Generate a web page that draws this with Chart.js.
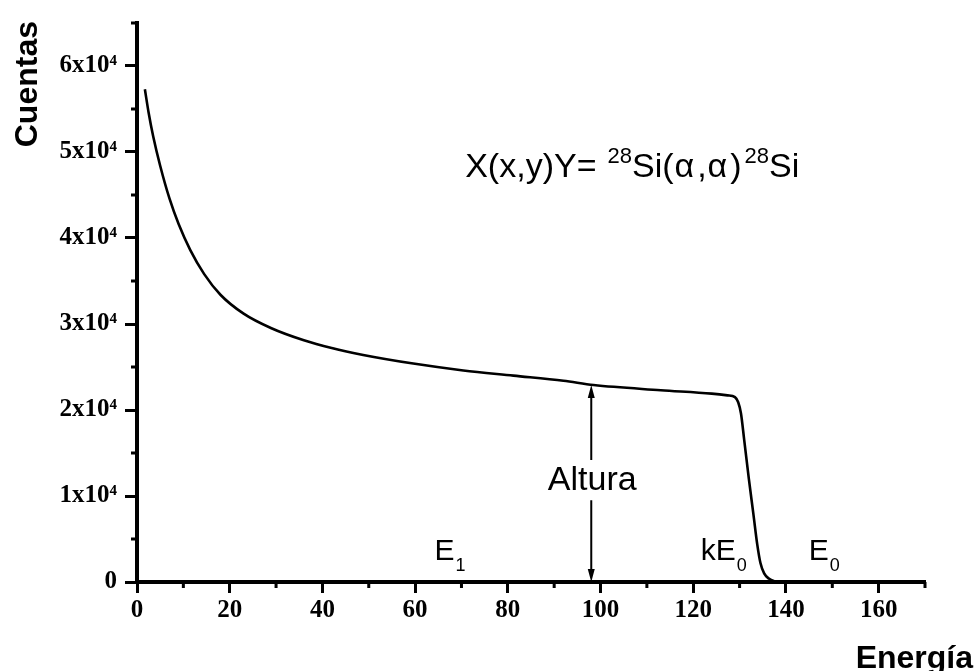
<!DOCTYPE html>
<html>
<head>
<meta charset="utf-8">
<script src="https://cdn.jsdelivr.net/npm/chart.js@4.4.1/dist/chart.umd.min.js"></script>
<style>
  html, body { margin: 0; padding: 0; background: #fff; }
  #wrap { width: 977px; height: 671px; }
</style>
</head>
<body>
<div id="wrap"><canvas id="espectro" width="977" height="671"></canvas></div>
<script>
// Espectro RBS: cuentas frente a energía
const energia = [1.7, 2.5, 3.5, 5.0, 7.0, 9.0, 11.5, 14.5, 18, 23, 29, 36, 42, 48.8, 59.6, 70.4, 81.2, 92, 98.5, 113, 124, 127.4, 129.0, 129.7, 130.3, 131.0, 132.0, 133.0, 133.8, 134.5, 135.3, 136.3, 137.5, 139];
const cuentas = [57300, 54600, 51800, 48400, 44600, 41600, 38600, 35800, 33400, 31200, 29500, 28100, 27200, 26400, 25400, 24600, 24000, 23400, 22900, 22300, 21900, 21700, 21500, 20900, 19600, 16500, 12000, 7800, 4400, 2200, 1000, 400, 100, 0];

const xMayores = [0, 20, 40, 60, 80, 100, 120, 140, 160];
const xMenores = [10, 30, 50, 70, 90, 110, 130, 150, 170];
const yMayores = [0, 10000, 20000, 30000, 40000, 50000, 60000];
const yMenores = [5000, 15000, 25000, 35000, 45000, 55000, 65000];

// flecha "Altura"
const alturaE = 98;
const alturaC = 22900;

const sans = '"Liberation Sans", Arial, sans-serif';
const serif = '"Liberation Serif", "Times New Roman", serif';

function textoCompuesto(ctx, x, y, partes) {
  let cx = x;
  partes.forEach(p => {
    ctx.font = (p.bold ? 'bold ' : '') + p.size + 'px ' + sans;
    ctx.fillText(p.t, cx, y + (p.dy || 0));
    cx += ctx.measureText(p.t).width + (p.gap || 0);
  });
}

const anotaciones = {
  id: 'anotaciones',
  afterDraw(chart) {
    const { ctx, chartArea: a, scales: { x, y } } = chart;
    ctx.save();
    ctx.fillStyle = '#000';
    ctx.strokeStyle = '#000';

    // marcas menores
    ctx.lineWidth = 3;
    ctx.beginPath();
    xMenores.forEach(v => {
      const px = x.getPixelForValue(v);
      ctx.moveTo(px, a.bottom);
      ctx.lineTo(px, a.bottom + 6);
    });
    yMenores.forEach(v => {
      const py = y.getPixelForValue(v);
      ctx.moveTo(a.left, py);
      ctx.lineTo(a.left - 6, py);
    });
    ctx.stroke();

    // flecha doble con hueco para el texto
    const ax = x.getPixelForValue(alturaE);
    const yb = y.getPixelForValue(0);
    const yt = y.getPixelForValue(alturaC);
    const g1 = y.getPixelForValue(14200);
    const g2 = y.getPixelForValue(9500);
    ctx.lineWidth = 2;
    ctx.beginPath();
    ctx.moveTo(ax, yt + 8); ctx.lineTo(ax, g1);
    ctx.moveTo(ax, g2); ctx.lineTo(ax, yb - 8);
    ctx.stroke();
    ctx.beginPath();
    ctx.moveTo(ax, yt); ctx.lineTo(ax - 3.5, yt + 13); ctx.lineTo(ax + 3.5, yt + 13); ctx.closePath();
    ctx.moveTo(ax, yb); ctx.lineTo(ax - 3.5, yb - 13); ctx.lineTo(ax + 3.5, yb - 13); ctx.closePath();
    ctx.fill();

    ctx.textBaseline = 'alphabetic';
    ctx.textAlign = 'center';
    ctx.font = '34px ' + sans;
    ctx.fillText('Altura', ax + 1, y.getPixelForValue(10700));

    ctx.textAlign = 'left';
    // reacción
    textoCompuesto(ctx, x.getPixelForValue(70.8), y.getPixelForValue(47100), [
      { t: 'X(x,y)Y=', size: 34, gap: 11 },
      { t: '28', size: 22, dy: -14 },
      { t: 'Si(', size: 34, gap: 1 },
      { t: '\u03b1', size: 34, gap: 3 },
      { t: ',', size: 34, gap: 1 },
      { t: '\u03b1', size: 34, gap: 3 },
      { t: ')', size: 34, gap: 3 },
      { t: '28', size: 22, dy: -14 },
      { t: 'Si', size: 34 }
    ]);

    const base = y.getPixelForValue(2600);
    textoCompuesto(ctx, x.getPixelForValue(64.2), base, [
      { t: 'E', size: 30, gap: 1 }, { t: '1', size: 18, dy: 11 }
    ]);
    textoCompuesto(ctx, x.getPixelForValue(121.6), base, [
      { t: 'kE', size: 30, gap: 1 }, { t: '0', size: 18, dy: 11 }
    ]);
    textoCompuesto(ctx, x.getPixelForValue(144.9), base, [
      { t: 'E', size: 30, gap: 1 }, { t: '0', size: 18, dy: 11 }
    ]);

    // títulos de ejes
    ctx.font = 'bold 32px ' + sans;
    ctx.textAlign = 'right';
    ctx.fillText('Energía', a.right + 48, a.bottom + 86);
    ctx.save();
    ctx.translate(a.left - 100, a.top - 2);
    ctx.rotate(-Math.PI / 2);
    ctx.fillText('Cuentas', 0, 0);
    ctx.restore();

    ctx.restore();
  }
};

const ctx = document.getElementById('espectro').getContext('2d');
new Chart(ctx, {
  type: 'line',
  data: {
    datasets: [{
      data: energia.map((e, i) => ({ x: e, y: cuentas[i] })),
      borderColor: '#000',
      borderWidth: 2.6,
      pointRadius: 0,
      cubicInterpolationMode: 'monotone',
      fill: false
    }]
  },
  options: {
    responsive: false,
    animation: false,
    layout: { padding: { top: 20, right: 52, left: 0, bottom: 0 } },
    plugins: { legend: { display: false }, tooltip: { enabled: false } },
    scales: {
      x: {
        type: 'linear',
        min: 0,
        max: 170,
        afterBuildTicks: s => { s.ticks = xMayores.map(v => ({ value: v })); },
        afterFit: s => { s.height = 89; },
        border: { color: '#000', width: 4 },
        grid: { drawOnChartArea: false, color: '#000', tickLength: 11, tickWidth: 3 },
        ticks: {
          color: '#000',
          padding: 3,
          maxRotation: 0,
          font: { family: serif, size: 25, weight: 'bold' }
        }
      },
      y: {
        type: 'linear',
        min: 0,
        max: 65000,
        afterBuildTicks: s => { s.ticks = yMayores.map(v => ({ value: v })); },
        afterFit: s => { s.width = 137; },
        border: { color: '#000', width: 4 },
        grid: { drawOnChartArea: false, color: '#000', tickLength: 12, tickWidth: 3 },
        ticks: {
          color: '#000',
          padding: 8,
          font: { family: serif, size: 25, weight: 'bold' },
          callback: v => v === 0 ? '0' : (v / 10000) + 'x10\u2074'
        }
      }
    }
  },
  plugins: [anotaciones]
});
</script>
</body>
</html>
